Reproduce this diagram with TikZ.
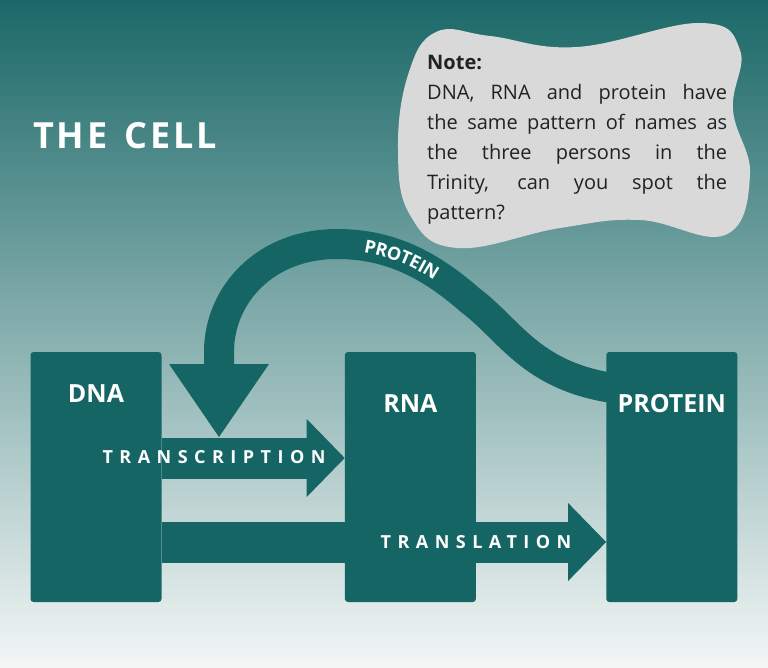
\documentclass[tikz,border=0pt]{standalone}
\usepackage{fontspec}
\setmainfont{Open Sans}
\newfontfamily\widefont[LetterSpace=36]{Open Sans}
\newfontfamily\curvefont[LetterSpace=16]{Open Sans}
\newfontfamily\titlefont[LetterSpace=8]{Open Sans}
\usepackage{xcolor}
\usepackage{tikz}
\usetikzlibrary{positioning,arrows.meta,decorations.text}
\definecolor{cellteal}{HTML}{166565}
\definecolor{bgtop}{HTML}{1B6868}
\definecolor{bgbottom}{HTML}{F3F7F6}
\definecolor{cloudgray}{HTML}{D9D9D9}
\definecolor{notegray}{HTML}{222222}

\begin{document}
\begin{tikzpicture}[x=1pt, y=-1pt,
  cellbox/.style={fill=cellteal, rounded corners=3pt, minimum width=131pt, minimum height=250pt, inner sep=0pt},
  boxlabel/.style={text=white, font=\bfseries\fontsize{25}{25}\selectfont},
  steplabel/.style={text=white, font=\widefont\bfseries\fontsize{18}{18}\selectfont},
  fatarrow/.style={cellteal, line width=41pt, -{Triangle[width=78pt, length=38pt, line width=0pt]}},
  notetext/.style={anchor=north west, inner sep=0pt, text width=300pt, align=justify, text=notegray, font=\fontsize{20}{30}\selectfont}]
 \shade [top color=bgtop, bottom color=bgbottom] (0,0) rectangle (768,668);
 \node [text=white, font=\titlefont\bfseries\fontsize{36}{36}\selectfont] (title) at (125,136) {THE\hspace{5pt} CELL};
 \fill [cloudgray] plot [smooth cycle, tension=0.7] coordinates {(436,32) (490,36) (577,47) (700,23) (740,50) (733,110) (750,175) (725,235) (640,220) (560,228) (457,248) (410,215) (398,150) (408,75)};
 \node [notetext] (note) at (427,55.5) {\textbf{Note:}\par DNA, RNA and protein have\linebreak the same pattern of names as\linebreak the three persons in the\linebreak Trinity, can you spot the\linebreak pattern?};
 \node [cellbox] (dna) at (96,477) {};
 \node [cellbox, right=183pt of dna] (rna) {};
 \node [cellbox, right=130pt of rna] (protein) {};
 \node [boxlabel] (dnalabel) at ([yshift=-42pt]dna.north) {DNA};
 \node [boxlabel] (rnalabel) at ([yshift=-52pt]rna.north) {RNA};
 \node [boxlabel] (proteinlabel) at ([yshift=-52pt]protein.north) {PROTEIN};
 \draw [fatarrow] ([yshift=19pt]dna.east) -- ([yshift=19pt]rna.west);
 \draw [fatarrow] ([yshift=-65pt]dna.east) -- ([yshift=-65pt]protein.west);
 \node [steplabel] (transcription) at (214,457) {TRANSCRIPTION};
 \node [steplabel] (translation) at (476,542) {TRANSLATION};
 \coordinate (hit) at (219,437);
 \draw [cellteal, line width=30pt, -{Triangle[width=100pt, length=73pt, line width=0pt]}] ([xshift=6pt, yshift=89pt]protein.west) .. controls (530,375) and (510,330) .. (470,300) .. controls (430,265) and (390,244) .. (337,244) .. controls (265,244) and (219,295) .. (219,352) -- (hit);
 \path [decorate, decoration={text along path, text={|\curvefont\bfseries\fontsize{18}{18}\selectfont|PROTEIN}, text color=white, text align=center, raise=-6.5pt}] (219,352) .. controls (219,295) and (265,244) .. (337,244) .. controls (390,244) and (430,265) .. (470,300) .. controls (510,330) and (530,375) .. (606,388);
\end{tikzpicture}
\end{document}
